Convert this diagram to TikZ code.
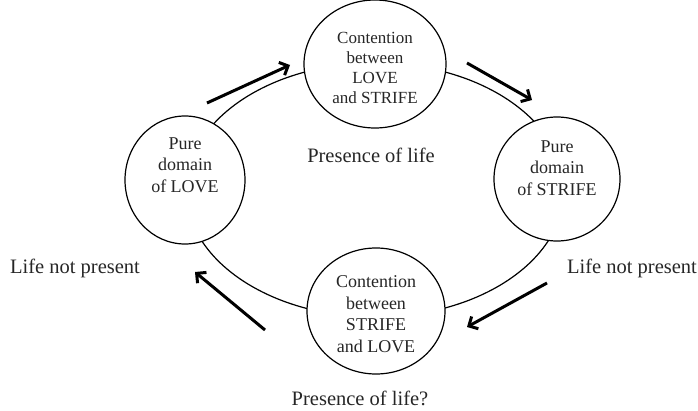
\documentclass[tikz,border=0pt]{standalone}
\usepackage{fontspec}
\setmainfont{Liberation Serif}
\usetikzlibrary{arrows.meta,shapes.geometric}
\begin{document}
\begin{tikzpicture}[x=1pt,y=1pt,
 circ/.style={draw, ellipse, line width=1.2pt, fill=white, inner sep=0pt, outer sep=0pt},
 ctext/.style={align=center, font=\fontsize{18}{21.5}\selectfont, text=black!85},
 ttext/.style={align=center, font=\fontsize{17}{20}\selectfont, text=black!85},
 lab/.style={font=\fontsize{20.5}{24}\selectfont, text=black!85},
 flow/.style={line width=3pt, -{Straight Barb[length=7pt,width=14pt]}},
 ring/.style={line width=1.2pt}]
\useasboundingbox (0,0) rectangle (698,410);
\coordinate (C) at (375,220);
\draw[ring] (C) ellipse [x radius=189, y radius=127];
% circles
\node[circ, minimum width=142, minimum height=128] (T) at (375,346) {};
\node[circ, minimum width=120, minimum height=128] (L) at (185,230) {};
\node[circ, minimum width=126, minimum height=124] (R) at (557,231) {};
\node[circ, minimum width=138, minimum height=126] (B) at (376,99) {};
% circle texts
\node[ttext] (Tt) at ([yshift=-4]T) {Contention\\between\\LOVE\\and STRIFE};
\node[ctext] (Lt) at ([yshift=15]L) {Pure\\domain\\of LOVE};
\node[ctext] (Rt) at ([yshift=11]R) {Pure\\domain\\of STRIFE};
\node[ctext] (Bt) at ([yshift=-3]B) {Contention\\between\\STRIFE\\and LOVE};
% labels
\node[lab] (p1) at (371,255) {Presence of life};
\node[lab] (n1) at (75,142) {Life not present};
\node[lab] (n2) at (632,142) {Life not present};
\node[lab] (p2) at (360,12) {Presence of life?};
% arrows
\coordinate (a1s) at (207,307); \coordinate (a1e) at (290,345);
\coordinate (a2s) at (467,347); \coordinate (a2e) at (532,310);
\coordinate (a3s) at (547,127); \coordinate (a3e) at (467,83);
\coordinate (a4s) at (265,80);  \coordinate (a4e) at (195,138);
\draw[flow] (a1s) -- (a1e);
\draw[flow] (a2s) -- (a2e);
\draw[flow] (a3s) -- (a3e);
\draw[flow] (a4s) -- (a4e);
\end{tikzpicture}
\end{document}
